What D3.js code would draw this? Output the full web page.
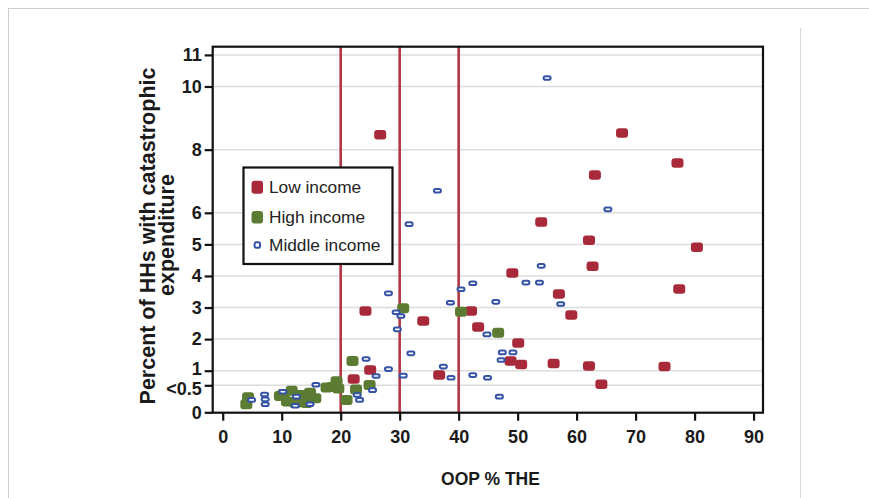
<!DOCTYPE html>
<html><head><meta charset="utf-8">
<script src="https://cdn.jsdelivr.net/npm/d3@7"></script>
<style>
html,body{margin:0;padding:0;background:#fff;}
svg{display:block;}
.tick text{font-family:"Liberation Sans Narrow","Arial Narrow","Liberation Sans",Arial,sans-serif;font-weight:bold;font-size:18px;fill:#1a1a1a;}
</style></head>
<body>
<svg id="chart" width="869" height="498"></svg>
<script>
// ---- data ----
const yTickValues = [0, 0.5, 1, 2, 3, 4, 5, 6, 8, 10, 11];
const yTickLabels = ["0", "<0.5", "1", "2", "3", "4", "5", "6", "8", "10", "11"];
const xTickValues = [0, 10, 20, 30, 40, 50, 60, 70, 80, 90];
const refLines = [20, 30, 40];
const seriesNames = ["Low income", "High income", "Middle income"];

const lowIncomeX = [26.7, 67.7, 77.1, 63.1, 54.0, 62.1, 80.4, 62.7, 49.1, 77.4, 57.0, 24.2, 42.1, 34.0, 59.1, 43.3, 50.1, 25.0, 22.2, 36.7, 48.8, 50.6, 56.1, 62.1, 74.9, 64.2];
const lowIncomeY = [8.47, 8.53, 7.58, 7.2, 5.71, 5.13, 4.91, 4.31, 4.09, 3.59, 3.43, 2.89, 2.89, 2.57, 2.76, 2.38, 1.88, 1.02, 0.72, 0.85, 1.31, 1.2, 1.23, 1.15, 1.13, 0.54];

const highIncomeX = [4.3, 4.0, 9.7, 10.3, 10.9, 11.7, 12.3, 13.1, 13.7, 14.2, 14.8, 15.7, 17.6, 18.6, 19.3, 19.6, 21.0, 22.0, 22.6, 24.9, 30.6, 40.4, 46.7];
const highIncomeY = [0.28, 0.15, 0.3, 0.34, 0.2, 0.4, 0.17, 0.32, 0.26, 0.17, 0.36, 0.26, 0.46, 0.47, 0.64, 0.44, 0.23, 1.31, 0.42, 0.51, 2.98, 2.87, 2.2];

const middleIncomeX = [55.0, 65.3, 36.4, 31.6, 54.0, 42.4, 51.4, 53.7, 46.3, 57.3, 44.8, 47.4, 49.2, 47.2, 42.4, 44.9, 46.9, 40.4, 38.6, 28.1, 29.4, 30.2, 29.6, 31.9, 24.3, 28.1, 37.4, 26.0, 30.6, 38.7, 25.4, 22.8, 23.2, 4.9, 7.1, 7.2, 7.2, 10.2, 12.5, 12.3, 14.8, 15.8];
const middleIncomeY = [10.27, 6.11, 6.7, 5.64, 4.32, 3.77, 3.79, 3.79, 3.18, 3.11, 2.15, 1.58, 1.58, 1.34, 0.85, 0.76, 0.29, 3.58, 3.15, 3.45, 2.85, 2.73, 2.31, 1.55, 1.37, 1.05, 1.13, 0.82, 0.83, 0.76, 0.41, 0.32, 0.23, 0.23, 0.33, 0.24, 0.15, 0.38, 0.29, 0.12, 0.15, 0.52];

// ---- layout ----
const svg = d3.select("#chart");
const plot = {left: 212.7, right: 763, top: 46.7, bottom: 412.7};
const x = d3.scaleLinear().domain([-1.7, 91.6]).range([plot.left, plot.right]);
const y = d3.scaleLinear().domain([0, 0.5, 1, 11.26]).range([412.3, 385.3, 370.7, plot.top]);

const RED = "#a82a3a", GREEN = "#5c7b33", BLUE = "#3553a6", LINE = "#b33645";

// outer page frame
svg.append("line").attr("x1", 8.5).attr("x2", 8.5).attr("y1", 8).attr("y2", 498).attr("stroke", "#cfcfcf").attr("stroke-width", 1);
svg.append("line").attr("x1", 8).attr("x2", 869).attr("y1", 8.5).attr("y2", 8.5).attr("stroke", "#cfcfcf").attr("stroke-width", 1);
svg.append("line").attr("x1", 800.5).attr("x2", 800.5).attr("y1", 28).attr("y2", 498).attr("stroke", "#d8d8d8").attr("stroke-width", 1);

// gridlines
svg.append("g").selectAll("line").data(yTickValues.filter(v => v > 0)).join("line")
  .attr("x1", plot.left).attr("x2", plot.right)
  .attr("y1", d => y(d)).attr("y2", d => y(d))
  .attr("stroke", "#dcdcdc").attr("stroke-width", 1.5);

// reference lines
svg.append("g").selectAll("line").data(refLines).join("line")
  .attr("x1", d => x(d)).attr("x2", d => x(d))
  .attr("y1", plot.top).attr("y2", plot.bottom)
  .attr("stroke", LINE).attr("stroke-width", 2.6);

// axes
const yAxis = d3.axisLeft(y).tickValues(yTickValues)
  .tickFormat((d, i) => yTickLabels[i]).tickSize(8).tickPadding(3);
const gy = svg.append("g").attr("transform", `translate(${plot.left},0)`).call(yAxis);
gy.select(".domain").remove();
gy.selectAll(".tick line").attr("stroke", "#111").attr("stroke-width", 2.2);
// small vertical nudges so that the close "1" and "<0.5" labels do not collide
gy.selectAll(".tick text").attr("dy", d => d === 0.5 ? "0.5em" : d === 1 ? "0.22em" : "0.32em");

const xAxis = d3.axisBottom(x).tickValues(xTickValues).tickSize(8).tickPadding(10);
const gx = svg.append("g").attr("transform", `translate(0,${plot.bottom})`).call(xAxis);
gx.select(".domain").remove();
gx.selectAll(".tick line").attr("stroke", "#111").attr("stroke-width", 2.2);

// data markers
function redMark(sel, w = 12, h = 9.5) {
  sel.attr("width", w).attr("height", h).attr("rx", 3).attr("ry", 3).attr("fill", RED);
}
function greenMark(sel, w = 12, h = 10) {
  sel.attr("width", w).attr("height", h).attr("rx", 3).attr("ry", 3).attr("fill", GREEN);
}
function blueMark(sel, w = 7, h = 3.6) {
  sel.attr("width", w).attr("height", h).attr("rx", 1.8).attr("ry", 1.8)
     .attr("fill", "#fff").attr("stroke", BLUE).attr("stroke-width", 2);
}
const lowData = lowIncomeX.map((v, i) => [v, lowIncomeY[i]]);
const highData = highIncomeX.map((v, i) => [v, highIncomeY[i]]);
const midData = middleIncomeX.map((v, i) => [v, middleIncomeY[i]]);

svg.append("g").selectAll("rect").data(lowData).join("rect")
  .call(redMark).attr("x", d => x(d[0]) - 6).attr("y", d => y(d[1]) - 4.75);
svg.append("g").selectAll("rect").data(highData).join("rect")
  .call(greenMark).attr("x", d => x(d[0]) - 6).attr("y", d => y(d[1]) - 5);
svg.append("g").selectAll("rect").data(midData).join("rect")
  .call(blueMark).attr("x", d => x(d[0]) - 3.5).attr("y", d => y(d[1]) - 1.8);

// plot frame
svg.append("rect").attr("x", plot.left).attr("y", plot.top)
  .attr("width", plot.right - plot.left).attr("height", plot.bottom - plot.top)
  .attr("fill", "none").attr("stroke", "#111").attr("stroke-width", 2.2);

// legend
const lg = svg.append("g");
lg.append("rect").attr("x", 243.5).attr("y", 167.5).attr("width", 149).attr("height", 96.5)
  .attr("fill", "#fff").attr("stroke", "#111").attr("stroke-width", 2.2);
const legendRows = [187.3, 217.3, 245];
const legendSizes = [[11.5, 13], [11.5, 12.5], [5.5, 5.5]];
const markFns = [redMark, greenMark, blueMark];
seriesNames.forEach((name, i) => {
  const [w, h] = legendSizes[i];
  const r = lg.append("rect").call(markFns[i], w, h);
  r.attr("x", 257.3 - w / 2).attr("y", legendRows[i] - h / 2);
  lg.append("text").attr("x", 269).attr("y", legendRows[i]).attr("dy", "0.35em")
    .attr("font-family", "'Liberation Sans', Arial, sans-serif").attr("font-size", 17.3)
    .attr("fill", "#222").text(name);
});

// axis titles
svg.append("text").attr("x", 490.5).attr("y", 485)
  .attr("text-anchor", "middle")
  .attr("font-family", "'Liberation Sans', Arial, sans-serif").attr("font-weight", "bold")
  .attr("font-size", 17.5).attr("fill", "#1a1a1a").text("OOP % THE");

const yt = svg.append("text").attr("transform", "translate(0,0) rotate(-90)")
  .attr("text-anchor", "middle")
  .attr("font-family", "'Liberation Sans', Arial, sans-serif").attr("font-weight", "bold")
  .attr("font-size", 21.5).attr("fill", "#1a1a1a");
yt.append("tspan").attr("x", -236).attr("y", 155).text("Percent of HHs with catastrophic");
yt.append("tspan").attr("x", -235).attr("y", 174).text("expenditure");
</script>
</body></html>
